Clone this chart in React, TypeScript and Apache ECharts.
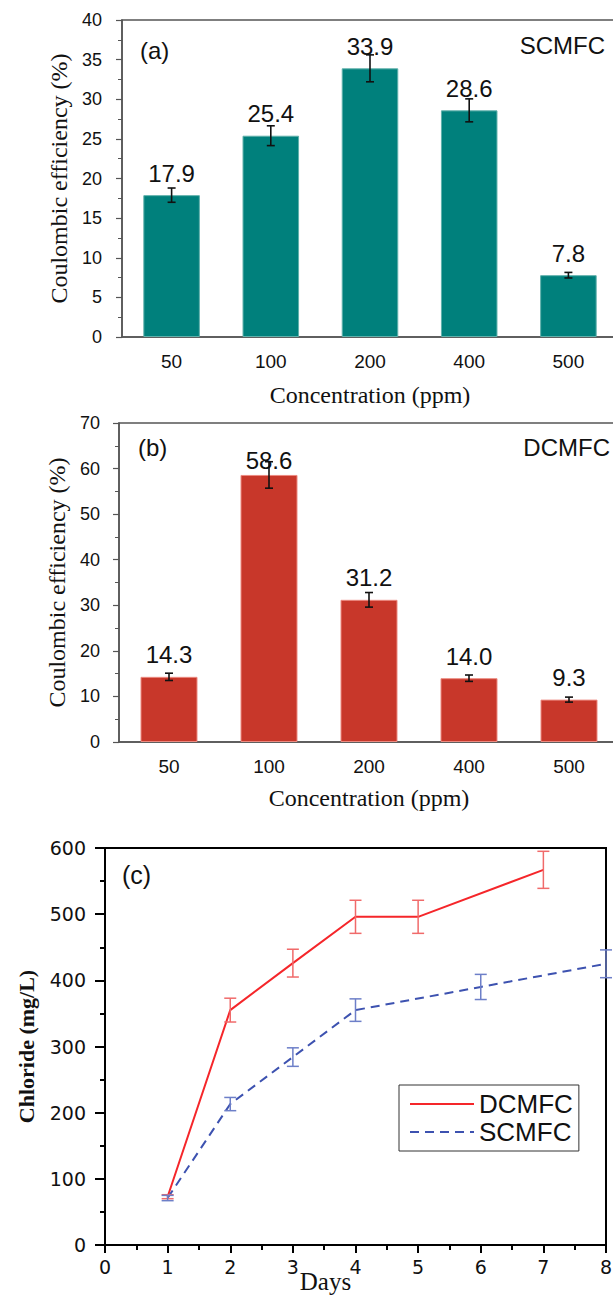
import React, { useEffect, useRef } from "react";
import * as echarts from "echarts";

// ---- data ----
const categories = ["50", "100", "200", "400", "500"];
const scmfcCE = [17.9, 25.4, 33.9, 28.6, 7.8];
const scmfcCEErr = [0.9, 1.25, 1.7, 1.45, 0.35];
const dcmfcCE = [14.3, 58.6, 31.2, 14.0, 9.3];
const dcmfcCEErr = [0.8, 2.9, 1.6, 0.7, 0.55];

const dcmfcDays = [1, 2, 3, 4, 5, 7];
const dcmfcChloride = [73, 355, 426, 496, 496, 567];
const dcmfcChlorideErr = [3, 18, 21, 25, 25, 28];
const scmfcDays = [1, 2, 3, 4, 6, 8];
const scmfcChloride = [71, 213, 284, 355, 390, 425];
const scmfcChlorideErr = [4, 10, 14, 17, 19, 21];

const SANS = "'Liberation Sans', Arial, sans-serif";
const SERIF = "'Liberation Serif', 'Times New Roman', serif";
const WIDE = "'DejaVu Sans', sans-serif";

function errData(vals: number[], errs: number[], xs?: number[]) {
  return vals.map((v, i) => [xs ? xs[i] : i, v - errs[i], v + errs[i]]);
}

function errSeries(
  data: number[][],
  xIdx: number,
  color: string,
  cap: number,
  width: number
) {
  return {
    type: "custom",
    xAxisIndex: xIdx,
    yAxisIndex: xIdx,
    z: 5,
    silent: true,
    data,
    encode: { x: 0, y: [1, 2] },
    renderItem: (params: any, api: any) => {
      const x = api.value(0);
      const lo = api.coord([x, api.value(1)]);
      const hi = api.coord([x, api.value(2)]);
      const st = { stroke: color, lineWidth: width };
      return {
        type: "group",
        children: [
          { type: "line", shape: { x1: lo[0], y1: lo[1], x2: hi[0], y2: hi[1] }, style: st },
          { type: "line", shape: { x1: lo[0] - cap, y1: lo[1], x2: lo[0] + cap, y2: lo[1] }, style: st },
          { type: "line", shape: { x1: hi[0] - cap, y1: hi[1], x2: hi[0] + cap, y2: hi[1] }, style: st },
        ],
      };
    },
  };
}

const barLabelDistA = [10, 10, 10, 10, 10];
const barLabelDistB = [10, 2, 10, 10, 10];

function barData(vals: number[], dists: number[]) {
  return vals.map((v, i) => ({ value: v, label: { distance: dists[i] } }));
}

function catAxis(gridIndex: number, nameGap: number) {
  return {
    type: "category",
    gridIndex,
    data: categories,
    axisLine: { lineStyle: { color: "#555", width: 1.5 } },
    axisTick: { show: false },
    axisLabel: { margin: 15, fontSize: 19, color: "#111", fontFamily: SANS },
    name: "Concentration (ppm)",
    nameLocation: "middle",
    nameGap,
    nameTextStyle: { fontFamily: SERIF, fontSize: 24, color: "#111" },
  };
}

function ceAxis(gridIndex: number, max: number, interval: number, nameGap: number, margin: number) {
  return {
    type: "value",
    gridIndex,
    min: 0,
    max,
    interval,
    axisLine: { show: true, lineStyle: { color: "#555", width: 1.5 } },
    axisTick: { show: true, length: 6, lineStyle: { color: "#555", width: 1.2 } },
    minorTick: { show: true, splitNumber: 2, length: 4, lineStyle: { color: "#555", width: 1 } },
    splitLine: { show: false },
    axisLabel: { margin, fontSize: 18, color: "#111", fontFamily: SANS },
    name: "Coulombic efficiency (%)",
    nameLocation: "middle",
    nameGap,
    nameTextStyle: { fontFamily: SERIF, fontSize: 24, color: "#111" },
  };
}

function barLabel() {
  return {
    show: true,
    position: "top",
    fontSize: 24,
    color: "#111",
    fontFamily: SANS,
    formatter: (p: any) => Number(p.value).toFixed(1),
  };
}

export default function App() {
  const ref = useRef<HTMLDivElement>(null);
  useEffect(() => {
    if (!ref.current) return;
    const chart = echarts.init(ref.current, undefined, { renderer: "svg" });
    const option: any = {
      animation: false,
      grid: [
        { left: 122, top: 20, height: 317, right: -5, show: true, borderColor: "#555", borderWidth: 1.5, containLabel: false, outerBoundsMode: "none" },
        { left: 119, top: 423, height: 319, right: -6, show: true, borderColor: "#555", borderWidth: 1.5, containLabel: false, outerBoundsMode: "none" },
        { left: 105, top: 848, height: 397, width: 501, show: true, borderColor: "#000", borderWidth: 2, containLabel: false, outerBoundsMode: "none" },
      ],
      xAxis: [
        catAxis(0, 46),
        catAxis(1, 44),
        {
          type: "value",
          gridIndex: 2,
          min: 0,
          max: 8,
          interval: 1,
          axisLine: { lineStyle: { color: "#000", width: 2 } },
          axisTick: { show: true, length: 8, lineStyle: { color: "#000", width: 2 } },
          minorTick: { show: true, splitNumber: 2, length: 5, lineStyle: { color: "#000", width: 2 } },
          splitLine: { show: false },
          axisLabel: { margin: 12, fontSize: 19, color: "#111", fontFamily: WIDE },
          name: "Days",
          nameLocation: "middle",
          nameGap: 24,
          nameMoveOverlap: false,
          nameTextStyle: { fontFamily: SERIF, fontSize: 25, color: "#111", lineHeight: 25, padding: [0, 60, 0, 0] },
        },
      ],
      yAxis: [
        ceAxis(0, 40, 5, 50, 20),
        ceAxis(1, 70, 10, 47, 19),
        {
          type: "value",
          gridIndex: 2,
          min: 0,
          max: 600,
          interval: 100,
          axisLine: { show: true, lineStyle: { color: "#000", width: 2 } },
          axisTick: { show: true, length: 10, lineStyle: { color: "#000", width: 2 } },
          minorTick: { show: true, splitNumber: 2, length: 5, lineStyle: { color: "#000", width: 2 } },
          splitLine: { show: false },
          axisLabel: { margin: 19, fontSize: 19, color: "#111", fontFamily: WIDE },
          name: "Chloride (mg/L)",
          nameLocation: "middle",
          nameGap: 68,
          nameTextStyle: { fontFamily: SERIF, fontSize: 22, fontWeight: "bold", color: "#111" },
        },
      ],
      legend: {
        data: ["DCMFC", "SCMFC"],
        orient: "vertical",
        left: 399,
        top: 1085,
        padding: [6, 6, 6, 10],
        itemGap: 2,
        itemWidth: 64,
        itemHeight: 25,
        borderColor: "#333",
        borderWidth: 1,
        borderRadius: 0,
        itemStyle: { opacity: 0, borderWidth: 0 },
        textStyle: { fontSize: 26, color: "#111", fontFamily: SANS },
      },
      series: [
        {
          type: "bar",
          name: "SCMFC CE",
          xAxisIndex: 0,
          yAxisIndex: 0,
          barWidth: "57%",
          data: barData(scmfcCE, barLabelDistA),
          itemStyle: { color: "#00807c", borderColor: "#5fb0ab", borderWidth: 1 },
          label: barLabel(),
        },
        errSeries(errData(scmfcCE, scmfcCEErr), 0, "#111", 4, 1.6),
        {
          type: "bar",
          name: "DCMFC CE",
          xAxisIndex: 1,
          yAxisIndex: 1,
          barWidth: "57%",
          data: barData(dcmfcCE, barLabelDistB),
          itemStyle: { color: "#c8372a", borderColor: "#ec8a80", borderWidth: 1 },
          label: barLabel(),
        },
        errSeries(errData(dcmfcCE, dcmfcCEErr), 1, "#111", 4, 1.6),
        {
          type: "line",
          name: "DCMFC",
          xAxisIndex: 2,
          yAxisIndex: 2,
          symbol: "none",
          data: dcmfcDays.map((d, i) => [d, dcmfcChloride[i]]),
          lineStyle: { color: "#f5262a", width: 2 },
          itemStyle: { color: "#f5262a" },
          z: 4,
        },
        {
          type: "line",
          name: "SCMFC",
          xAxisIndex: 2,
          yAxisIndex: 2,
          symbol: "none",
          data: scmfcDays.map((d, i) => [d, scmfcChloride[i]]),
          lineStyle: { color: "#3d52b0", width: 2, type: [9, 6] },
          itemStyle: { color: "#3d52b0" },
          z: 4,
        },
        errSeries(errData(dcmfcChloride, dcmfcChlorideErr, dcmfcDays), 2, "#f06a6a", 6, 1.5),
        errSeries(errData(scmfcChloride, scmfcChlorideErr, scmfcDays), 2, "#6d7fc8", 6, 1.5),
      ],
      graphic: [
        { type: "text", x: 140, y: 50, style: { text: "(a)", fontSize: 24, fontFamily: SANS, fill: "#111", align: "left", verticalAlign: "middle" } },
        { type: "text", x: 605, y: 45, style: { text: "SCMFC", fontSize: 24, fontFamily: SANS, fill: "#111", align: "right", verticalAlign: "middle" } },
        { type: "text", x: 138, y: 447, style: { text: "(b)", fontSize: 24, fontFamily: SANS, fill: "#111", align: "left", verticalAlign: "middle" } },
        { type: "text", x: 610, y: 447, style: { text: "DCMFC", fontSize: 24, fontFamily: SANS, fill: "#111", align: "right", verticalAlign: "middle" } },
        { type: "text", x: 122, y: 875, style: { text: "(c)", fontSize: 25, fontFamily: SANS, fill: "#111", align: "left", verticalAlign: "middle" } },
      ],
    };
    chart.setOption(option);
    return () => chart.dispose();
  }, []);
  return (
    <div
      ref={ref}
      style={{ position: "absolute", left: 0, top: 0, width: 613, height: 1298, background: "#fff" }}
    />
  );
}
